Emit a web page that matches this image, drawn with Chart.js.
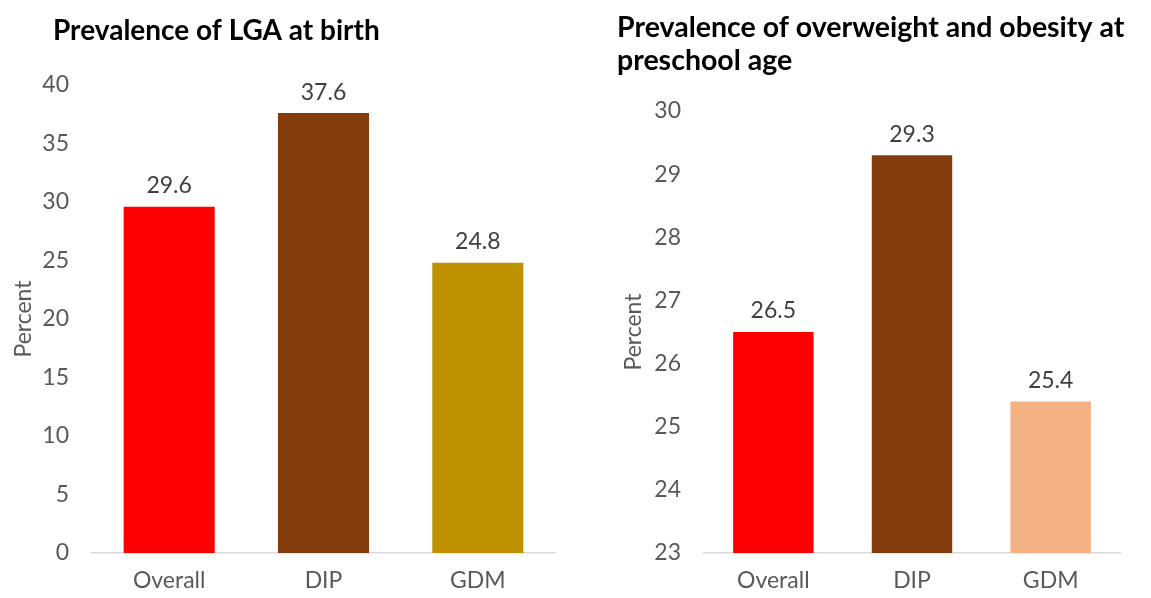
<!DOCTYPE html>
<html>
<head>
<meta charset="utf-8">
<script src="https://cdn.jsdelivr.net/npm/chart.js@4/dist/chart.umd.min.js"></script>
<style>
  html, body { margin: 0; padding: 0; background: #ffffff; }
  #wrap { position: relative; width: 1151px; height: 598px; overflow: hidden; }
  canvas { position: absolute; top: 0; }
  #lga { left: 0; }
  #ow { left: 575px; }
</style>
</head>
<body>
<div id="wrap">
  <canvas id="lga" width="575" height="598"></canvas>
  <canvas id="ow" width="576" height="598"></canvas>
</div>
<script>
// Categories shared by both panels
const categories = ["Overall", "DIP", "GDM"];

// Panel 1: prevalence of large-for-gestational-age at birth (%)
const lgaTitle = ["Prevalence of LGA at birth"];
const lgaValues = [29.6, 37.6, 24.8];
const lgaColors = ["#FF0000", "#843C0C", "#BF9000"];
const lgaTicks = [0, 5, 10, 15, 20, 25, 30, 35, 40];

// Panel 2: prevalence of overweight and obesity at preschool age (%)
const owTitle = ["Prevalence of overweight and obesity at", "preschool age"];
const owValues = [26.5, 29.3, 25.4];
const owColors = ["#FF0000", "#843C0C", "#F4B183"];
const owTicks = [23, 24, 25, 26, 27, 28, 29, 30];

const FONT = "Lato, 'Open Sans', sans-serif";

// Draws the bold panel heading in the top-left corner
const panelTitle = {
  id: "panelTitle",
  afterDraw(chart, args, opts) {
    const ctx = chart.ctx;
    ctx.save();
    ctx.fillStyle = "#000000";
    ctx.font = "bold " + opts.size + "px " + FONT;
    ctx.textAlign = "left";
    ctx.textBaseline = "middle";
    opts.lines.forEach((t, i) => ctx.fillText(t, opts.x, opts.y + i * opts.lineGap));
    ctx.restore();
  }
};

// Writes each bar's value just above it
const barValues = {
  id: "barValues",
  afterDatasetsDraw(chart) {
    const ctx = chart.ctx;
    ctx.save();
    ctx.fillStyle = "#404040";
    ctx.font = "23px " + FONT;
    ctx.textAlign = "center";
    ctx.textBaseline = "middle";
    chart.data.datasets.forEach((ds, di) => {
      chart.getDatasetMeta(di).data.forEach((bar, i) => {
        ctx.fillText(ds.data[i].toFixed(1), bar.x, bar.y - 21);
      });
    });
    ctx.restore();
  }
};

function makePanel(id, values, colors, ticks, title, layout) {
  const min = ticks[0], max = ticks[ticks.length - 1];
  const step = ticks[1] - ticks[0];
  return new Chart(document.getElementById(id), {
    type: "bar",
    data: {
      labels: categories,
      datasets: [{
        data: values,
        backgroundColor: colors,
        borderWidth: 0,
        categoryPercentage: 1,
        barPercentage: layout.barPct
      }]
    },
    options: {
      responsive: false,
      animation: false,
      events: [],
      layout: { padding: { top: layout.top, right: layout.right, left: 0, bottom: 0 } },
      plugins: {
        legend: { display: false },
        tooltip: { enabled: false },
        title: { display: false },
        panelTitle: { lines: title, x: layout.titleX, y: layout.titleY, lineGap: 33, size: layout.titleSize }
      },
      scales: {
        x: {
          grid: { display: false, drawTicks: false },
          border: { display: true, color: "#D9D9D9", width: 1.5 },
          ticks: { color: "#595959", font: { family: FONT, size: 23 }, padding: 14 },
          afterFit(scale) { scale.height = 45; }
        },
        y: {
          min: min, max: max,
          grid: { display: false, drawTicks: false },
          border: { display: false },
          ticks: { stepSize: step, color: "#595959", font: { family: FONT, size: 23 }, padding: 23 },
          title: {
            display: true, text: "Percent", color: "#595959",
            font: { family: FONT, size: 23 }, padding: { top: layout.yTitlePad, bottom: 0 }
          },
          afterFit(scale) { scale.width = layout.axisW; }
        }
      }
    },
    plugins: [panelTitle, barValues]
  });
}

makePanel("lga", lgaValues, lgaColors, lgaTicks, lgaTitle,
  { top: 85, right: 20, axisW: 92, barPct: 0.59, titleX: 53, titleY: 31, titleSize: 28, yTitlePad: 10 });
makePanel("ow", owValues, owColors, owTicks, owTitle,
  { top: 111, right: 31, axisW: 129, barPct: 0.58, titleX: 42, titleY: 28, titleSize: 28.5, yTitlePad: 45 });
</script>
</body>
</html>
